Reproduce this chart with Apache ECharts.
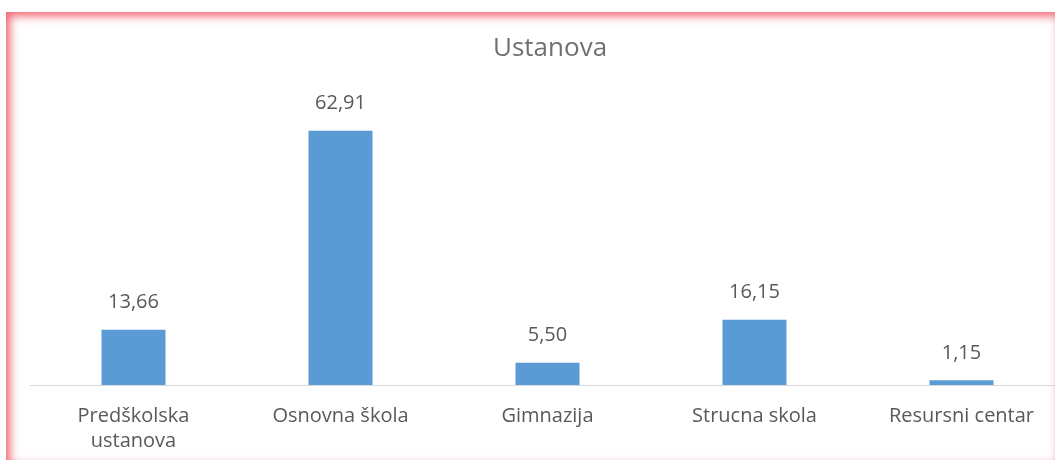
<!DOCTYPE html>
<html><head><meta charset="utf-8">
<script src="https://cdn.jsdelivr.net/npm/echarts@6/dist/echarts.min.js"></script>
<style>
html,body{margin:0;padding:0;background:#fff;overflow:hidden;}
#frame{position:absolute;left:6px;top:12px;width:1052px;height:452px;box-shadow:inset 4px 4px 10px rgba(240,80,90,0.85), inset -2px -2px 8px rgba(240,110,120,0.35);}
#c{position:absolute;left:0;top:0;width:1055px;height:460px;}
</style></head>
<body>
<div id="frame"></div>
<div id="c"></div>
<script>
const categories = ['Predškolska\nustanova','Osnovna škola','Gimnazija','Strucna skola','Resursni centar'];
const values = [13.66, 62.91, 5.50, 16.15, 1.15];
const titleText = 'Ustanova';

const chart = echarts.init(document.getElementById('c'), null, {renderer:'canvas'});
const font = '"Open Sans", sans-serif';
chart.setOption({
  backgroundColor: 'transparent',
  animation: false,
  title: {text: titleText, left: 488, top: 31,
    textStyle: {fontFamily: font, fontSize: 26, fontWeight: 'normal', color: '#707070'}},
  grid: {left: 30, width: 1035, top: 102, bottom: 75, containLabel: false, outerBoundsMode: 'none'},
  xAxis: {type: 'category', data: categories,
    axisLine: {lineStyle: {color: '#d9d9d9', width: 1}},
    axisTick: {show: false},
    axisLabel: {fontFamily: font, fontSize: 20, color: '#595959', margin: 19, lineHeight: 25, interval: 0}},
  yAxis: {type: 'value', min: 0, max: 70, show: false, splitLine: {show: false}},
  series: [{type: 'bar', data: values, barWidth: 64,
    itemStyle: {color: '#5b9bd5'},
    label: {show: true, position: 'top', distance: 17, fontFamily: font, fontSize: 20, color: '#595959',
      formatter: p => p.value.toFixed(2).replace('.', ',')}}]
});
</script>
</body></html>
